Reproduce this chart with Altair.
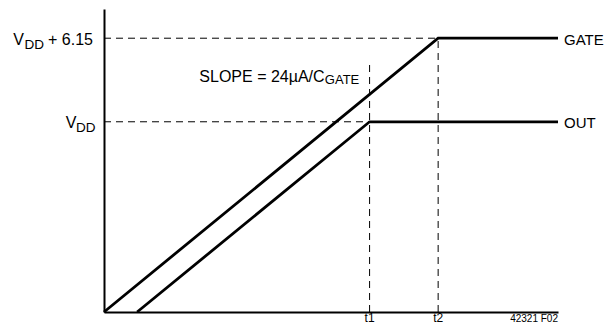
import altair as alt
import pandas as pd

# ---- data (arbitrary time units 0..100, voltage units) ----
VDD = 14.0
VDD_GATE = VDD + 6.15
T1 = 58.5
T2 = 73.6
OUT_START = 7.3
T_END = 100.0
T1_GUIDE_TOP = 18.2
Y_MAX = 22.3

gate_t = [0.0, T2, T_END]
gate_v = [0.0, VDD_GATE, VDD_GATE]
out_t = [OUT_START, T1, T_END]
out_v = [0.0, VDD, VDD]

FONT = "Liberation Sans"

xs = alt.Scale(domain=[0, T_END], nice=False, zero=False)
ys = alt.Scale(domain=[0, Y_MAX], nice=False, zero=False)

lines_df = pd.DataFrame({
    "t": gate_t + out_t,
    "v": gate_v + out_v,
    "series": ["GATE"] * 3 + ["OUT"] * 3,
    "order": [0, 1, 2, 0, 1, 2],
})

ax = alt.Axis(labels=False, ticks=False, grid=False, title=None,
              domainColor="black", domainWidth=2)

lines = alt.Chart(lines_df).mark_line(color="black", strokeWidth=2.8).encode(
    x=alt.X("t:Q", scale=xs, axis=ax),
    y=alt.Y("v:Q", scale=ys, axis=ax),
    detail="series:N",
    order="order:Q",
)

hdash_df = pd.DataFrame({"x": [0.0, 0.0], "x2": [T2, T1], "y": [VDD_GATE, VDD]})
hdash = alt.Chart(hdash_df).mark_rule(color="black", strokeWidth=1, strokeDash=[7, 5]).encode(
    x=alt.X("x:Q", scale=xs), x2="x2:Q", y=alt.Y("y:Q", scale=ys)
)

vdash_df = pd.DataFrame({"x": [T1, T2], "y": [0.0, 0.0], "y2": [T1_GUIDE_TOP, VDD_GATE]})
vdash = alt.Chart(vdash_df).mark_rule(color="black", strokeWidth=1, strokeDash=[7, 5]).encode(
    x=alt.X("x:Q", scale=xs), y=alt.Y("y:Q", scale=ys), y2="y2:Q"
)


def txt(text, x, y, size=16, align="left", baseline="alphabetic", dx=0, dy=0):
    df = pd.DataFrame({"x": [x], "y": [y], "label": [text]})
    return alt.Chart(df).mark_text(
        font=FONT, fontSize=size, color="black", align=align,
        baseline=baseline, dx=dx, dy=dy
    ).encode(
        x=alt.X("x:Q", scale=xs), y=alt.Y("y:Q", scale=ys), text="label:N"
    )


texts = [
    txt("V", 0, VDD_GATE, dx=-90.7, dy=6.6),
    txt("DD", 0, VDD_GATE, size=13.5, dx=-79.5, dy=10.6),
    txt("+ 6.15", 0, VDD_GATE, dx=-56, dy=6.6),
    txt("V", 0, VDD, dx=-38.3, dy=5.8),
    txt("DD", 0, VDD, size=13.5, dx=-28, dy=9.8),
    txt("SLOPE = 24µA/C", 21.0, 16.95),
    txt("GATE", 21.0, 16.95, size=13, dx=125.5, dy=2.8),
    txt("GATE", T_END, VDD_GATE, size=15, dx=6, dy=6.5),
    txt("OUT", T_END, VDD, size=15, dx=6, dy=6.5),
    txt("t1", T1, 0, size=12, align="center", dy=10),
    txt("t2", T2, 0, size=12, align="center", dy=10),
    txt("42321 F02", T_END, 0, size=10, align="right", baseline="top", dy=2),
]

chart = alt.layer(hdash, vdash, lines, *texts).properties(
    width=454, height=303,
    autosize=alt.AutoSizeParams(type="none"),
    padding={"left": 96, "top": 1, "right": 47, "bottom": 13},
    background="white",
).configure_view(stroke=None)

chart.save("out.html", embed_options={"renderer": "svg", "actions": False})
